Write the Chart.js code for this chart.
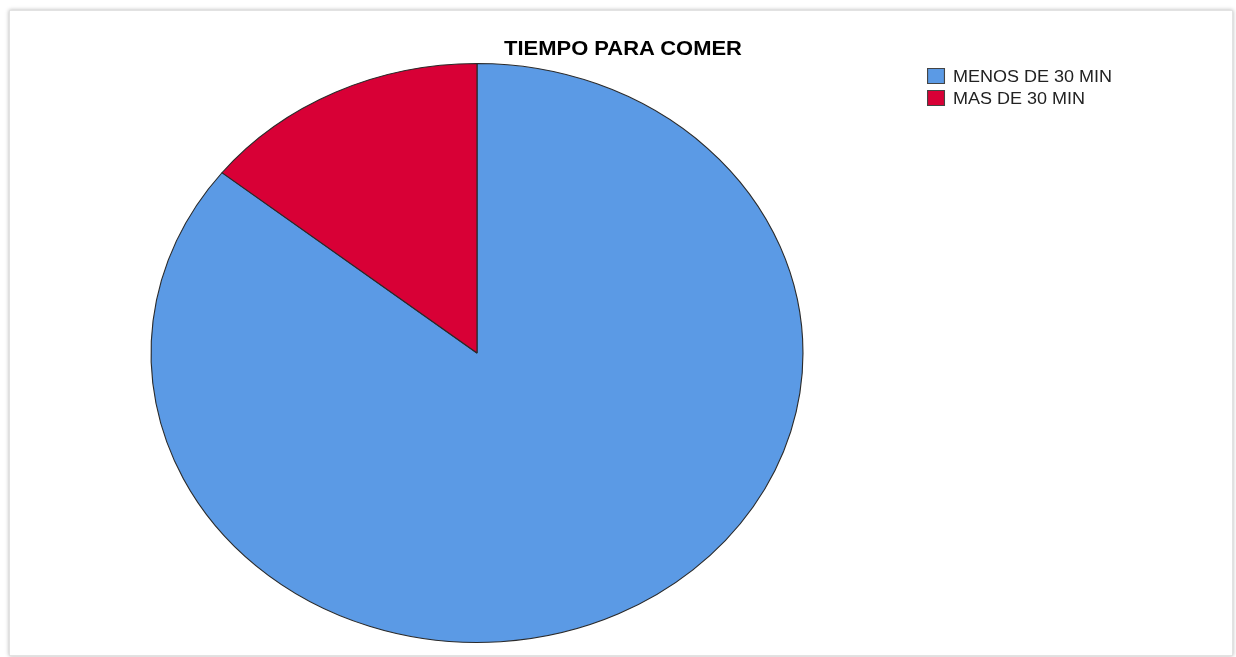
<!DOCTYPE html>
<html>
<head>
<meta charset="utf-8">
<script src="https://cdn.jsdelivr.net/npm/chart.js@4"></script>
<style>
    body {
        margin: 0;
        background: #fff;
        font-family: "Liberation Sans", Arial, sans-serif;
    }
    .frame {
        position: absolute;
        left: 9px;
        top: 10px;
        width: 1222px;
        height: 644px;
        border: 1px solid #e2e2e2;
        box-shadow: 0 0 4px rgba(0, 0, 0, 0.3);
        background: #fff;
    }
    #chart {
        position: absolute;
        left: 0;
        top: 0;
    }
    .title {
        position: absolute;
        left: 623px;
        top: 38px;
        font-size: 19.5px;
        line-height: 20px;
        font-weight: bold;
        color: #000;
        white-space: nowrap;
        transform: translateX(-50%) scaleX(1.126);
    }
    .legend {
        position: absolute;
        left: 927px;
        top: 66px;
        transform: scaleX(1.126);
        transform-origin: left top;
        font-size: 16px;
        color: #222;
    }
    .legend div {
        height: 21.5px;
        line-height: 21.5px;
        white-space: nowrap;
    }
    .legend span {
        display: inline-block;
        width: 14px;
        height: 14px;
        border: 1px solid #444;
        margin-right: 7px;
        vertical-align: -2px;
    }
</style>
</head>
<body>
<div class="frame"></div>
<canvas id="chart" width="1236" height="657"></canvas>
<div class="title" id="title"></div>
<div class="legend" id="legend"></div>
<script>
const title = "TIEMPO PARA COMER";
const categories = ["MENOS DE 30 MIN", "MAS DE 30 MIN"];
const values = [85.7, 14.3];
const colors = ["#5b9ae5", "#d80036"];

// the original picture is stretched sideways, so the pie is an ellipse
const stretchX = 1.126;

const ellipse = {
    id: "ellipse",
    beforeDatasetsDraw(chart) {
        const a = chart.chartArea;
        const cx = (a.left + a.right) / 2;
        const cy = (a.top + a.bottom) / 2;
        chart.ctx.save();
        chart.ctx.translate(cx, cy);
        chart.ctx.scale(stretchX, 1);
        chart.ctx.translate(-cx, -cy);
    },
    afterDatasetsDraw(chart) {
        chart.ctx.restore();
    },
};

const ctx = document.querySelector("#chart").getContext("2d");

new Chart(ctx, {
    type: "pie",
    data: {
        labels: categories,
        datasets: [
            {
                data: values,
                backgroundColor: colors,
                borderColor: "#2a2a2a",
                borderWidth: 1,
            },
        ],
    },
    options: {
        responsive: false,
        animation: false,
        layout: {
            padding: { top: 63, bottom: 14, left: 187, right: 469 },
        },
        plugins: {
            legend: { display: false },
            title: { display: false },
            tooltip: { enabled: false },
        },
    },
    plugins: [ellipse],
});

// Title and legend as html

document.querySelector("#title").textContent = title;

const legend = document.querySelector("#legend");
categories.forEach((label, i) => {
    const row = document.createElement("div");
    const box = document.createElement("span");
    box.style.background = colors[i];
    row.appendChild(box);
    row.appendChild(document.createTextNode(label));
    legend.appendChild(row);
});
</script>
</body>
</html>
